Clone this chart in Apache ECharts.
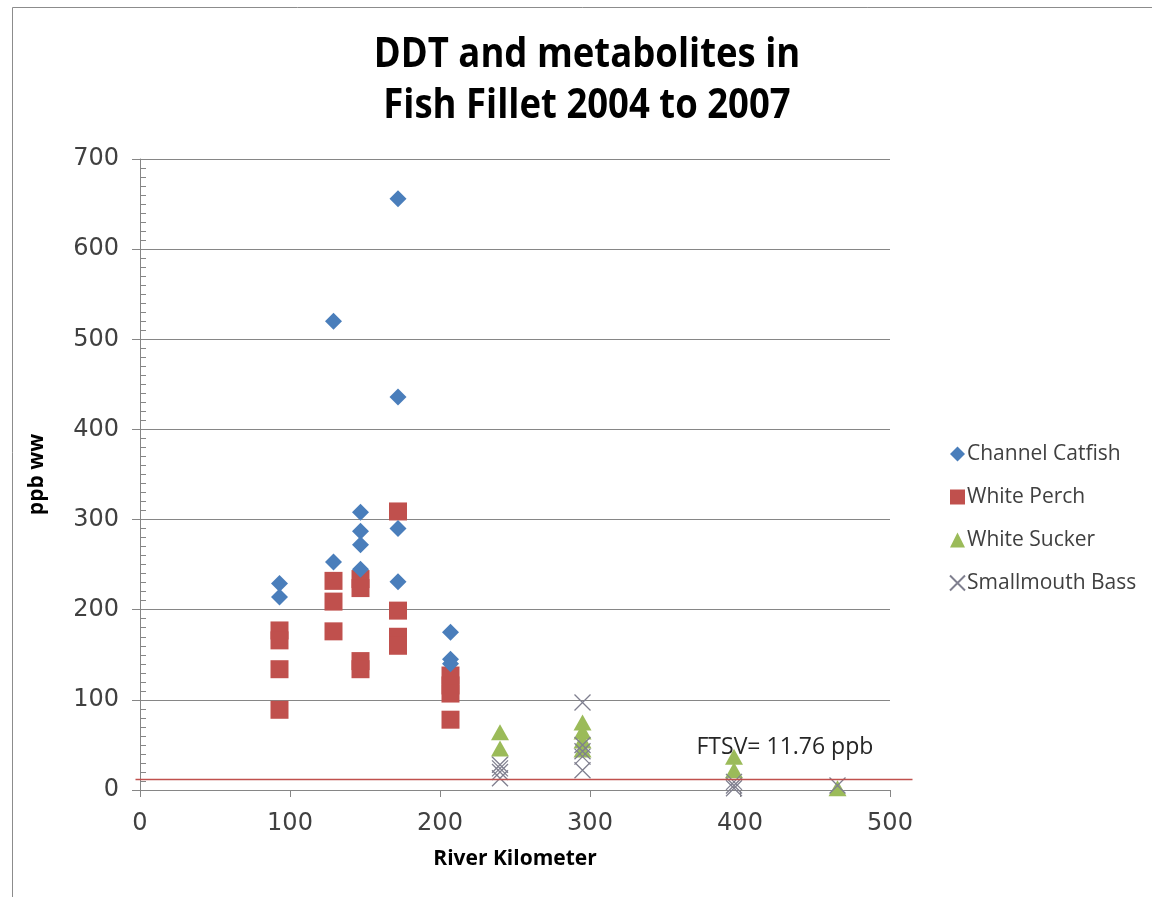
<!DOCTYPE html>
<html>
<head>
<meta charset="utf-8">
<title>DDT and metabolites in Fish Fillet 2004 to 2007</title>
<script src="https://cdn.jsdelivr.net/npm/echarts@6/dist/echarts.min.js"></script>
<style>
  html, body { margin: 0; padding: 0; background: #ffffff; }
  #chart { width: 1152px; height: 897px; }
</style>
</head>
<body>
<div id="chart"></div>
<script>
// Chart text
const titleLines = ['DDT and metabolites in', 'Fish Fillet 2004 to 2007'];
const xAxisName = 'River Kilometer';
const yAxisName = 'ppb ww';
const seriesNames = ['Channel Catfish', 'White Perch', 'White Sucker', 'Smallmouth Bass'];
const ftsvLabel = 'FTSV= 11.76 ppb';
const ftsvValue = 11.76;

// Axis ranges (river km, ppb wet weight)
const xRange = [0, 500, 100];
const yRange = [0, 700, 100];

// Samples: [river kilometer, DDT + metabolites ppb ww]
const channelCatfish = [
  [93, 229], [93, 214],
  [129, 520], [129, 253],
  [147, 308], [147, 287], [147, 272], [147, 245],
  [172, 656], [172, 436], [172, 290], [172, 231],
  [207, 175], [207, 145], [207, 140]
];
const whitePerch = [
  [93, 177], [93, 166], [93, 134], [93, 89],
  [129, 232], [129, 209], [129, 176],
  [147, 234], [147, 224], [147, 143], [147, 134],
  [172, 309], [172, 199], [172, 170], [172, 160],
  [207, 127], [207, 116], [207, 107], [207, 78]
];
const whiteSucker = [
  [240, 64], [240, 46],
  [295, 75], [295, 65], [295, 55], [295, 45],
  [396, 37], [396, 22],
  [465, 2]
];
const smallmouthBass = [
  [240, 28], [240, 24], [240, 20], [240, 13],
  [295, 97], [295, 50], [295, 43], [295, 37], [295, 22],
  [396, 9], [396, 5], [396, 2],
  [465, 5]
];

const colors = {
  catfish: '#4a7ebb',
  perch: '#c0504d',
  sucker: '#9bbb59',
  bass: '#7f7f8f',
  grid: '#868686',
  text: '#404040',
  ftsv: '#c0504d'
};
const crossPath = 'path://M0,0L16,16M16,0L0,16';
const tickFont = '"DejaVu Sans", "Open Sans", sans-serif';
const boldFont = '"Open Sans", sans-serif';
const textFont = '"Open Sans", sans-serif';

const chart = echarts.init(document.getElementById('chart'), null, { renderer: 'canvas' });

const option = {
  backgroundColor: '#ffffff',
  animation: false,
  grid: { left: 140, right: 262, top: 159, bottom: 107, containLabel: false },
  legend: {
    orient: 'vertical',
    left: 944,
    top: 435,
    itemWidth: 15,
    itemHeight: 15,
    itemGap: 15,
    textStyle: { fontFamily: textFont, fontSize: 21, lineHeight: 28, color: colors.text, padding: [0, 0, 0, -3] },
    data: [
      { name: seriesNames[0], icon: 'diamond' },
      { name: seriesNames[1], icon: 'rect' },
      { name: seriesNames[2], icon: 'triangle' },
      { name: seriesNames[3], icon: crossPath }
    ]
  },
  xAxis: {
    type: 'value',
    min: xRange[0], max: xRange[1], interval: xRange[2],
    name: xAxisName,
    nameLocation: 'middle',
    nameGap: 59,
    nameTextStyle: { fontFamily: boldFont, fontWeight: 'bold', fontSize: 21, color: '#000' },
    axisLine: { show: true, onZero: false, lineStyle: { color: colors.grid, width: 1 } },
    axisTick: { show: true, inside: false, length: 7, lineStyle: { color: colors.grid } },
    axisLabel: { fontFamily: tickFont, fontSize: 24, color: colors.text, margin: 22 },
    splitLine: { show: false }
  },
  yAxis: [
    {
      type: 'value',
      min: yRange[0], max: yRange[1], interval: yRange[2],
      name: yAxisName,
      nameLocation: 'middle',
      nameGap: 92,
      nameRotate: 90,
      nameTextStyle: { fontFamily: boldFont, fontWeight: 'bold', fontSize: 21, color: '#000' },
      axisLine: { show: true, onZero: false, lineStyle: { color: colors.grid, width: 1 } },
      axisTick: { show: true, inside: false, length: 8, lineStyle: { color: colors.grid } },
      axisLabel: { fontFamily: tickFont, fontSize: 24, color: colors.text, margin: 21 },
      splitLine: { show: true, lineStyle: { color: colors.grid, width: 1 } }
    },
    {
      // minor ticks on the inner side of the value axis
      type: 'value',
      position: 'left',
      min: yRange[0], max: yRange[1], interval: yRange[2],
      axisLine: { show: false },
      axisTick: { show: false, inside: true },
      minorTick: { show: true, splitNumber: 10, length: 6, lineStyle: { color: colors.grid, width: 1 } },
      axisLabel: { show: false },
      splitLine: { show: false }
    }
  ],
  series: [
    {
      name: seriesNames[0], type: 'scatter', data: channelCatfish,
      symbol: 'diamond', symbolSize: [17, 17],
      itemStyle: { color: colors.catfish, opacity: 1 }, z: 4
    },
    {
      name: seriesNames[1], type: 'scatter', data: whitePerch,
      symbol: 'rect', symbolSize: [18, 18],
      itemStyle: { color: colors.perch, opacity: 1 }, z: 3
    },
    {
      name: seriesNames[2], type: 'scatter', data: whiteSucker,
      symbol: 'triangle', symbolSize: [18, 16],
      itemStyle: { color: colors.sucker, opacity: 1 }, z: 5
    },
    {
      name: seriesNames[3], type: 'scatter', data: smallmouthBass,
      symbol: crossPath, symbolSize: [16, 16],
      itemStyle: { color: 'transparent', borderColor: colors.bass, borderWidth: 1.3, opacity: 1 }, z: 6
    }
  ],
  graphic: [
    {
      id: 'frame', type: 'rect', silent: true, z: -10,
      shape: { x: 12.5, y: 7.5, width: 1160, height: 900 },
      style: { fill: 'none', stroke: '#8c8c8c', lineWidth: 1 }
    },
    {
      // condensed bold heading
      id: 'title', type: 'text', x: 587, y: 30, scaleX: 0.89, silent: true,
      style: {
        text: titleLines.join('\n'), textAlign: 'center', textVerticalAlign: 'top',
        font: 'bold 41px ' + boldFont, fill: '#000', lineHeight: 51
      }
    }
  ]
};

chart.setOption(option);

// FTSV screening value line and its label, placed through the axis scales
const yFtsv = chart.convertToPixel({ yAxisIndex: 0 }, ftsvValue);
const xStart = chart.convertToPixel({ xAxisIndex: 0 }, -3);
const xEnd = chart.convertToPixel({ xAxisIndex: 0 }, 515);
const xLabel = chart.convertToPixel({ xAxisIndex: 0 }, 371);
chart.setOption({
  graphic: [
    {
      id: 'ftsvLine', type: 'line', silent: true, z: 10,
      shape: { x1: xStart, y1: yFtsv, x2: xEnd, y2: yFtsv },
      style: { stroke: colors.ftsv, lineWidth: 1.5 }
    },
    {
      id: 'ftsvText', type: 'text', silent: true, z: 10, x: xLabel, y: yFtsv - 20,
      style: {
        text: ftsvLabel, textAlign: 'left', textVerticalAlign: 'bottom',
        font: '23px ' + textFont, fill: '#262626'
      }
    }
  ]
});
</script>
</body>
</html>
